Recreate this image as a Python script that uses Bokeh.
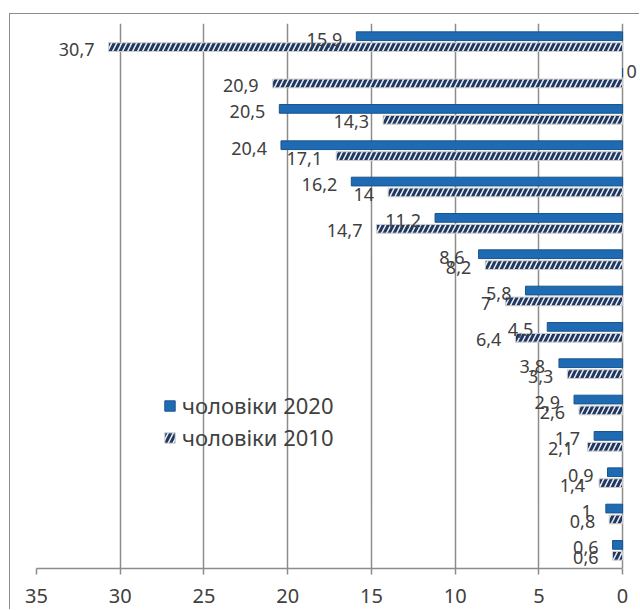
from bokeh.plotting import figure
from bokeh.models import (ColumnDataSource, FactorRange, Range1d, FixedTicker,
                          Legend, LegendItem)
from bokeh.transform import dodge
from bokeh.core.properties import value
from bokeh.embed import file_html
from bokeh.resources import INLINE

# ---- data (top row first) ----
categories = [str(i) for i in range(1, 16)]
men_2020 = [15.9, 0, 20.5, 20.4, 16.2, 11.2, 8.6, 5.8, 4.5, 3.8, 2.9, 1.7, 0.9, 1, 0.6]
men_2010 = [30.7, 20.9, 14.3, 17.1, 14, 14.7, 8.2, 7, 6.4, 3.3, 2.6, 2.1, 1.4, 0.8, 0.6]
series_names = ["чоловіки 2020", "чоловіки 2010"]
x_ticks = [0, 5, 10, 15, 20, 25, 30, 35]


def fmt(v):
    return f"{v:g}".replace(".", ",")


src = ColumnDataSource(dict(cat=categories, v20=men_2020, v10=men_2010,
                            t20=[fmt(v) for v in men_2020],
                            t10=[fmt(v) for v in men_2010]))

FONT = "Noto Sans"
TXT = "#404040"
GRID = "#8c8c8c"

p = figure(width=630, height=596, output_backend="svg", toolbar_location=None,
           y_range=FactorRange(factors=categories[::-1]),
           x_range=Range1d(35, -1.07),
           min_border_left=26, min_border_right=0, min_border_top=9,
           min_border_bottom=42,
           styles={"margin": "13px 0 0 9px",
                   "border-left": "1px solid #8c8c8c",
                   "border-top": "1px solid #8c8c8c"})
p.outline_line_color = None
p.background_fill_color = "white"
p.border_fill_color = "white"

OFF20, OFF10 = 0.15, -0.15
H = 0.24

r20 = p.hbar(y=dodge("cat", OFF20, range=p.y_range), left=0, right="v20", height=H,
             source=src, fill_color="#1f6bb3", line_color="#18558f", line_width=1)
r10 = p.hbar(y=dodge("cat", OFF10, range=p.y_range), left=0, right="v10", height=H,
             source=src, fill_color="#f0f0f0", line_color="#cfcfcf", line_width=1,
             hatch_pattern="/", hatch_color="#1f3864", hatch_weight=3, hatch_scale=10)

# labels: non-zero values to the left of the bar end, zeros to the right of the axis
nz20 = [i for i, v in enumerate(men_2020) if v != 0]
z20 = [i for i, v in enumerate(men_2020) if v == 0]
nz10 = [i for i, v in enumerate(men_2010) if v != 0]


def sub(idx, col, tcol):
    return ColumnDataSource(dict(cat=[categories[i] for i in idx],
                                 v=[src.data[col][i] for i in idx],
                                 t=[src.data[tcol][i] for i in idx]))


lab_kw = dict(text="t", text_font=value(FONT), text_font_size="18px",
              text_color=TXT, text_baseline="middle")
p.text(x="v", y=dodge("cat", OFF20, range=p.y_range), source=sub(nz20, "v20", "t20"),
       text_align="right", x_offset=-14, y_offset=3, **lab_kw)
p.text(x="v", y=dodge("cat", OFF10, range=p.y_range), source=sub(nz10, "v10", "t10"),
       text_align="right", x_offset=-14, y_offset=2, **lab_kw)
p.text(x="v", y=dodge("cat", OFF20, range=p.y_range), source=sub(z20, "v20", "t20"),
       text_align="left", x_offset=4, y_offset=-1, **lab_kw)

# axes / grid
p.yaxis.visible = False
p.ygrid.grid_line_color = None
p.xaxis.ticker = FixedTicker(ticks=x_ticks)
p.xaxis.bounds = (0, 35)
p.xgrid.ticker = FixedTicker(ticks=x_ticks)
p.xgrid.grid_line_color = GRID
p.xgrid.grid_line_width = 1.5
p.xaxis.axis_line_color = GRID
p.xaxis.axis_line_width = 1.5
p.xaxis.major_tick_line_color = GRID
p.xaxis.major_tick_line_width = 1.5
p.xaxis.major_tick_out = 6
p.xaxis.major_tick_in = 0
p.xaxis.minor_tick_line_color = None
p.xaxis.major_label_text_font = FONT
p.xaxis.major_label_text_font_size = "20px"
p.xaxis.major_label_text_color = TXT
p.xaxis.major_label_text_line_height = 0.8
p.xaxis.major_label_standoff = 14

legend = Legend(items=[LegendItem(label=series_names[0], renderers=[r20]),
                       LegendItem(label=series_names[1], renderers=[r10])],
                location=(127, 116))
legend.label_text_font = FONT
legend.label_text_font_size = "22px"
legend.label_text_color = TXT
legend.background_fill_alpha = 0
legend.border_line_color = None
legend.padding = 0
legend.margin = 0
legend.spacing = 2
legend.glyph_width = 13
legend.glyph_height = 13
legend.label_standoff = 6
legend.label_height = 24
p.add_layout(legend)

open("out.html", "w").write(file_html(p, INLINE))
